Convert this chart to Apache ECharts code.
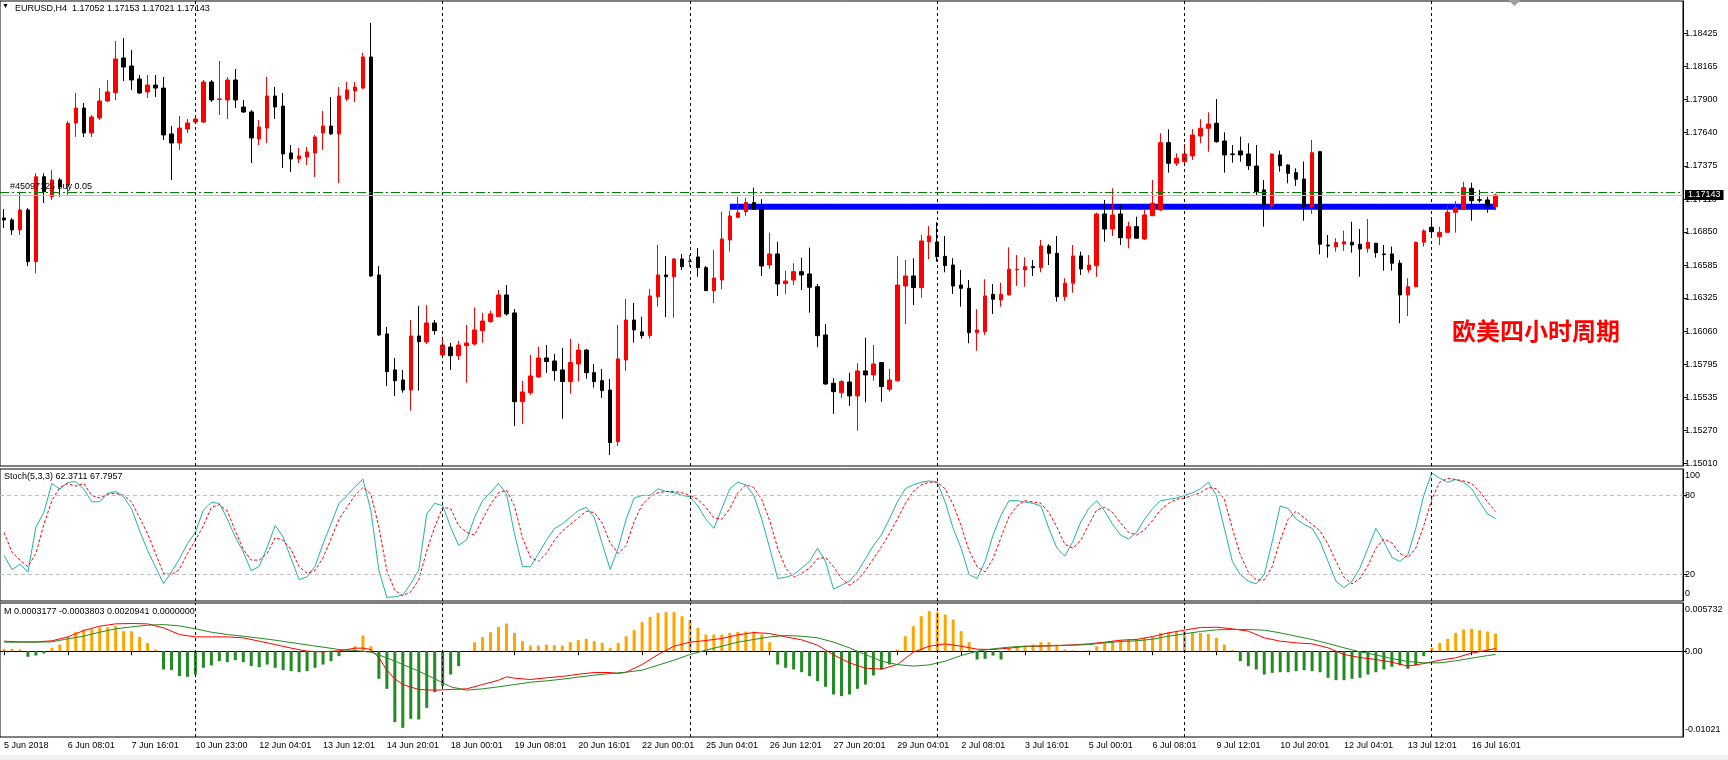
<!DOCTYPE html>
<html>
<head>
<meta charset="utf-8">
<title>EURUSD,H4</title>
<script src="https://cdn.jsdelivr.net/npm/echarts@6/dist/echarts.min.js"></script>
<style>
  html, body { margin: 0; padding: 0; background: #fff; }
  #main { width: 1728px; height: 760px; }
</style>
</head>
<body>
<div id="main"></div>
<script>
// EURUSD H4, 5 Jun 2018 00:00 .. 17 Jul 2018 04:00 (188 bars)
var symbol = 'EURUSD,H4';

// one label every 8 bars, first one on bar 0
var tickLabels = ['5 Jun 2018', '6 Jun 08:01', '7 Jun 16:01', '10 Jun 23:00', '12 Jun 04:01', '13 Jun 12:01',
  '14 Jun 20:01', '18 Jun 00:01', '19 Jun 08:01', '20 Jun 16:01', '22 Jun 00:01', '25 Jun 04:01',
  '26 Jun 12:01', '27 Jun 20:01', '29 Jun 04:01', '2 Jul 08:01', '3 Jul 16:01', '5 Jul 00:01',
  '6 Jul 08:01', '9 Jul 12:01', '10 Jul 20:01', '12 Jul 04:01', '13 Jul 12:01', '16 Jul 16:01'];

var priceTicks = [1.18425, 1.18165, 1.17900, 1.17640, 1.17375, 1.17110, 1.16850, 1.16585,
  1.16325, 1.16060, 1.15795, 1.15535, 1.15270, 1.15010];

var opens = [
  1.16960, 1.16944, 1.16865, 1.17024, 1.16613, 1.17288, 1.17129, 1.17262, 1.17222, 1.17715,
  1.17834, 1.17636, 1.17755, 1.17890, 1.17956, 1.18232, 1.18168, 1.18065, 1.17962, 1.18017,
  1.17993, 1.17628, 1.17556, 1.17667, 1.17723, 1.17723, 1.18041, 1.17902, 1.17898, 1.18057,
  1.17842, 1.17803, 1.17588, 1.17675, 1.17930, 1.17850, 1.17477, 1.17429, 1.17445, 1.17477,
  1.17636, 1.17691, 1.17628, 1.17906, 1.17970, 1.17993, 1.18240, 1.16507, 1.16038, 1.15752,
  1.15672, 1.15592, 1.16022, 1.15974, 1.16125, 1.15871, 1.15934, 1.15865, 1.15945, 1.15958,
  1.16064, 1.16136, 1.16175, 1.16348, 1.16205, 1.15499, 1.15571, 1.15696, 1.15847, 1.15823,
  1.15752, 1.15659, 1.15799, 1.15910, 1.15730, 1.15666, 1.15592, 1.15181, 1.15831, 1.16149,
  1.16054, 1.16024, 1.16334, 1.16507, 1.16493, 1.16634, 1.16614, 1.16650, 1.16565, 1.16382,
  1.16467, 1.16785, 1.16965, 1.17010, 1.17082, 1.17029, 1.16586, 1.16674, 1.16438, 1.16467,
  1.16533, 1.16515, 1.16414, 1.16030, 1.15646, 1.15571, 1.15656, 1.15545, 1.15744, 1.15712,
  1.15810, 1.15598, 1.15666, 1.16419, 1.16499, 1.16406, 1.16771, 1.16769, 1.16655, 1.16586,
  1.16427, 1.16401, 1.16048, 1.16056, 1.16353, 1.16308, 1.16348, 1.16548, 1.16547, 1.16573,
  1.16565, 1.16737, 1.16679, 1.16334, 1.16441, 1.16658, 1.16547, 1.16581, 1.16992, 1.16872,
  1.16992, 1.16799, 1.16891, 1.16793, 1.16978, 1.17024, 1.17559, 1.17395, 1.17408, 1.17453,
  1.17612, 1.17673, 1.17713, 1.17572, 1.17469, 1.17493, 1.17469, 1.17373, 1.17183, 1.17055,
  1.17461, 1.17381, 1.17320, 1.17270, 1.17050, 1.17487, 1.16745, 1.16732, 1.16753, 1.16767,
  1.16751, 1.16719, 1.16759, 1.16674, 1.16674, 1.16600, 1.16348, 1.16414, 1.16767, 1.16886,
  1.16811, 1.16846, 1.17005, 1.17031, 1.17196, 1.17105, 1.17103, 1.17052];

var closes = [
  1.16944, 1.16865, 1.17024, 1.16613, 1.17288, 1.17169, 1.17262, 1.17209, 1.17713, 1.17834,
  1.17636, 1.17763, 1.17890, 1.17962, 1.18224, 1.18160, 1.18057, 1.17954, 1.18017, 1.17993,
  1.17620, 1.17556, 1.17675, 1.17715, 1.17747, 1.18041, 1.17898, 1.17906, 1.18057, 1.17898,
  1.17803, 1.17596, 1.17683, 1.17930, 1.17842, 1.17469, 1.17429, 1.17453, 1.17485, 1.17604,
  1.17691, 1.17628, 1.17930, 1.17978, 1.18001, 1.18240, 1.16499, 1.16030, 1.15738, 1.15666,
  1.15592, 1.16022, 1.15977, 1.16125, 1.16064, 1.15950, 1.15865, 1.15950, 1.15966, 1.16070,
  1.16141, 1.16197, 1.16348, 1.16197, 1.15499, 1.15577, 1.15704, 1.15847, 1.15818, 1.15746,
  1.15659, 1.15810, 1.15910, 1.15730, 1.15659, 1.15587, 1.15174, 1.15839, 1.16149, 1.16070,
  1.16024, 1.16340, 1.16507, 1.16493, 1.16634, 1.16573, 1.16618, 1.16565, 1.16382, 1.16483,
  1.16793, 1.16976, 1.17002, 1.17082, 1.17029, 1.16578, 1.16674, 1.16435, 1.16459, 1.16533,
  1.16507, 1.16409, 1.16024, 1.15640, 1.15579, 1.15659, 1.15545, 1.15744, 1.15712, 1.15799,
  1.15619, 1.15672, 1.16427, 1.16499, 1.16406, 1.16777, 1.16817, 1.16652, 1.16581, 1.16419,
  1.16401, 1.16048, 1.16070, 1.16340, 1.16314, 1.16353, 1.16552, 1.16552, 1.16573, 1.16565,
  1.16737, 1.16679, 1.16334, 1.16441, 1.16658, 1.16555, 1.16586, 1.16992, 1.16872, 1.16984,
  1.16803, 1.16891, 1.16799, 1.16984, 1.17077, 1.17559, 1.17395, 1.17435, 1.17469, 1.17620,
  1.17673, 1.17707, 1.17566, 1.17461, 1.17464, 1.17461, 1.17376, 1.17169, 1.17063, 1.17469,
  1.17376, 1.17315, 1.17268, 1.17050, 1.17479, 1.16751, 1.16737, 1.16764, 1.16771, 1.16745,
  1.16713, 1.16767, 1.16684, 1.16669, 1.16600, 1.16348, 1.16414, 1.16767, 1.16857, 1.16851,
  1.16846, 1.17005, 1.17042, 1.17201, 1.17097, 1.17101, 1.17055, 1.17143];

var lows = [
  1.16880, 1.16825, 1.16825, 1.16578, 1.16520, 1.17079, 1.17103, 1.17129, 1.17143, 1.17604,
  1.17604, 1.17604, 1.17739, 1.17882, 1.17898, 1.18049, 1.17978, 1.17946, 1.17914, 1.17922,
  1.17580, 1.17262, 1.17501, 1.17636, 1.17713, 1.17715, 1.17882, 1.17779, 1.17747, 1.17834,
  1.17795, 1.17397, 1.17540, 1.17556, 1.17747, 1.17357, 1.17326, 1.17397, 1.17381, 1.17286,
  1.17501, 1.17620, 1.17238, 1.17890, 1.17882, 1.17985, 1.16491, 1.16022, 1.15624, 1.15545,
  1.15571, 1.15428, 1.15587, 1.15958, 1.16032, 1.15857, 1.15752, 1.15831, 1.15651, 1.15945,
  1.15969, 1.16128, 1.16173, 1.16183, 1.15306, 1.15322, 1.15553, 1.15688, 1.15728, 1.15666,
  1.15364, 1.15563, 1.15659, 1.15682, 1.15611, 1.15529, 1.15076, 1.15147, 1.15744, 1.15969,
  1.16000, 1.16000, 1.16255, 1.16173, 1.16167, 1.16547, 1.16573, 1.16493, 1.16380, 1.16284,
  1.16393, 1.16692, 1.16957, 1.16978, 1.17024, 1.16499, 1.16555, 1.16340, 1.16356, 1.16427,
  1.16388, 1.16207, 1.15932, 1.15632, 1.15402, 1.15527, 1.15465, 1.15269, 1.15495, 1.15666,
  1.15499, 1.15579, 1.15659, 1.16117, 1.16268, 1.16326, 1.16632, 1.16613, 1.16528, 1.16356,
  1.16255, 1.15964, 1.15905, 1.16030, 1.16197, 1.16255, 1.16344, 1.16419, 1.16414, 1.16499,
  1.16528, 1.16586, 1.16295, 1.16302, 1.16366, 1.16507, 1.16525, 1.16493, 1.16771, 1.16817,
  1.16745, 1.16719, 1.16797, 1.16785, 1.16976, 1.17016, 1.17320, 1.17373, 1.17389, 1.17421,
  1.17554, 1.17487, 1.17559, 1.17320, 1.17400, 1.17408, 1.17342, 1.17143, 1.16891, 1.17029,
  1.17328, 1.17236, 1.17214, 1.16938, 1.16992, 1.16671, 1.16644, 1.16692, 1.16698, 1.16684,
  1.16493, 1.16684, 1.16644, 1.16541, 1.16541, 1.16123, 1.16181, 1.16409, 1.16732, 1.16811,
  1.16745, 1.16843, 1.16843, 1.17024, 1.16938, 1.17082, 1.17002, 1.17021];

var highs = [
  1.17031, 1.16960, 1.17169, 1.17039, 1.17315, 1.17315, 1.17342, 1.17278, 1.17731, 1.17954,
  1.17874, 1.17779, 1.17993, 1.18057, 1.18367, 1.18391, 1.18296, 1.18097, 1.18097, 1.18097,
  1.18081, 1.17691, 1.17771, 1.17747, 1.17755, 1.18057, 1.18057, 1.18208, 1.18081, 1.18144,
  1.17898, 1.17819, 1.17739, 1.18081, 1.18001, 1.17954, 1.17540, 1.17517, 1.17524, 1.17620,
  1.17811, 1.17922, 1.18001, 1.18041, 1.18041, 1.18272, 1.18510, 1.16578, 1.16093, 1.15847,
  1.15752, 1.16149, 1.16260, 1.16268, 1.16149, 1.16016, 1.15966, 1.15982, 1.16109, 1.16247,
  1.16205, 1.16223, 1.16388, 1.16427, 1.16236, 1.15664, 1.15871, 1.15937, 1.15950, 1.15879,
  1.15927, 1.15998, 1.15961, 1.15918, 1.15799, 1.15760, 1.15680, 1.16109, 1.16316, 1.16284,
  1.16175, 1.16395, 1.16745, 1.16658, 1.16642, 1.16674, 1.16666, 1.16721, 1.16578, 1.16705,
  1.17010, 1.17018, 1.17129, 1.17121, 1.17201, 1.17109, 1.16843, 1.16771, 1.16541, 1.16600,
  1.16644, 1.16724, 1.16435, 1.16117, 1.15686, 1.15672, 1.15730, 1.15805, 1.16008, 1.15950,
  1.15815, 1.15760, 1.16658, 1.16626, 1.16640, 1.16825, 1.16896, 1.16926, 1.16817, 1.16640,
  1.16547, 1.16467, 1.16234, 1.16473, 1.16435, 1.16446, 1.16727, 1.16666, 1.16647, 1.16626,
  1.16785, 1.16751, 1.16817, 1.16481, 1.16745, 1.16692, 1.16666, 1.17002, 1.17103, 1.17196,
  1.17069, 1.16930, 1.16970, 1.17024, 1.17262, 1.17633, 1.17665, 1.17474, 1.17548, 1.17667,
  1.17745, 1.17800, 1.17906, 1.17641, 1.17540, 1.17606, 1.17554, 1.17540, 1.17262, 1.17473,
  1.17495, 1.17389, 1.17355, 1.17408, 1.17580, 1.17493, 1.16825, 1.16799, 1.16859, 1.16930,
  1.16872, 1.16952, 1.16761, 1.16745, 1.16732, 1.16626, 1.16481, 1.16771, 1.16870, 1.16944,
  1.16891, 1.17058, 1.17095, 1.17248, 1.17240, 1.17183, 1.17129, 1.17153];

// Stochastic(5,3,3): %K and %D
var stochMain = [
  34.6, 23.8, 27.8, 22.0, 55.9, 67.2, 89.0, 84.8, 89.8, 90.5,
  84.8, 75.2, 75.2, 81.5, 83.0, 79.0, 69.7, 53.4, 38.3, 25.8,
  13.2, 22.0, 32.0, 43.4, 52.1, 69.0, 74.7, 74.0, 62.2, 48.4,
  37.1, 22.8, 26.3, 40.8, 57.2, 48.4, 32.0, 16.2, 18.3, 26.3,
  43.4, 58.4, 74.0, 79.7, 86.5, 92.3, 68.5, 23.3, 2.7, 3.2,
  4.4, 13.2, 23.3, 65.9, 74.0, 72.2, 55.9, 42.1, 46.4, 63.4,
  76.0, 82.2, 89.0, 81.0, 50.9, 26.3, 25.8, 35.8, 45.9, 54.7,
  58.4, 63.4, 68.5, 71.0, 63.4, 43.4, 24.0, 40.0, 62.0, 78.0,
  80.0, 80.0, 85.0, 83.0, 82.0, 80.0, 79.0, 72.0, 62.0, 55.0,
  70.0, 85.0, 90.0, 88.0, 80.0, 62.0, 40.0, 17.0, 18.0, 20.0,
  25.0, 30.0, 40.0, 30.0, 9.0, 12.0, 15.0, 22.0, 32.0, 42.0,
  50.0, 62.0, 75.0, 85.0, 88.0, 90.0, 91.0, 90.0, 75.0, 55.0,
  40.0, 20.0, 17.0, 30.0, 50.0, 65.0, 76.0, 76.0, 75.0, 74.0,
  72.0, 55.0, 40.0, 34.0, 45.0, 60.0, 70.0, 76.0, 68.0, 58.0,
  50.0, 47.0, 52.0, 62.0, 70.0, 76.0, 77.0, 78.0, 80.0, 82.0,
  85.0, 90.0, 80.0, 55.0, 30.0, 20.0, 15.0, 13.0, 20.0, 45.0,
  72.0, 70.0, 62.0, 58.0, 55.0, 45.0, 30.0, 15.0, 10.0, 15.0,
  25.0, 40.0, 55.0, 45.0, 33.0, 30.0, 35.0, 55.0, 80.0, 97.0,
  93.0, 90.0, 92.0, 90.0, 85.0, 75.0, 66.0, 62.3711];

var stochSignal = [
  52, 37, 31, 26, 36, 58, 76, 86, 89, 87,
  89, 80, 78, 81, 81.5, 80, 75, 63, 51, 36,
  21, 20, 24, 36, 46, 57, 71, 73, 68, 53,
  39, 31, 31, 36, 48, 46, 39, 26, 21, 23,
  33, 47, 62, 71, 80, 86, 81, 56, 23, 8,
  4, 7, 16, 38, 56, 71, 70, 57, 52, 50,
  62, 73, 82, 84, 72, 48, 33, 30, 36, 46,
  53, 58, 63, 68, 67, 59, 44, 36, 42, 60,
  73, 79, 82, 83, 83, 82, 80, 77, 71, 63,
  62, 70, 82, 88, 86, 77, 61, 40, 25, 18,
  21, 25, 32, 33, 26, 17, 12, 16, 23, 32,
  41, 51, 62, 74, 83, 88, 90, 90, 85, 73,
  57, 38, 26, 22, 32, 48, 64, 72, 76, 75,
  74, 67, 56, 43, 40, 46, 58, 69, 71, 67,
  59, 52, 50, 54, 61, 69, 74, 77, 78, 80,
  82, 86, 85, 77, 55, 35, 22, 16, 16, 26,
  46, 62, 68, 63, 58, 53, 43, 30, 18, 13,
  17, 27, 40, 47, 44, 36, 33, 40, 57, 77,
  90, 93, 92, 91, 89, 83, 75, 67.7957];

var stochLevels = [80, 20];
var stochTicks = [100, 80, 20, 0];

// MACD-style pane: histogram per bar, two signal lines read at [bar, value]
var macdHist = [
  0.00028, 0.00028, 0.00020, -0.00067, -0.00052, -0.00028, 0.00040, 0.00079, 0.00170, 0.00226,
  0.00258, 0.00258, 0.00278, 0.00285, 0.00297, 0.00238, 0.00238, 0.00170, 0.00099, 0.00020,
  -0.00218, -0.00226, -0.00297, -0.00305, -0.00278, -0.00198, -0.00170, -0.00119, -0.00131, -0.00107,
  -0.00131, -0.00178, -0.00190, -0.00159, -0.00198, -0.00226, -0.00238, -0.00250, -0.00238, -0.00198,
  -0.00159, -0.00119, -0.00059, 0.00020, 0.00059, 0.00186, 0.00059, -0.00329, -0.00448, -0.00845,
  -0.00912, -0.00805, -0.00813, -0.00674, -0.00488, -0.00416, -0.00278, -0.00178, 0.00004, 0.00107,
  0.00167, 0.00226, 0.00289, 0.00329, 0.00218, 0.00119, 0.00067, 0.00067, 0.00079, 0.00071,
  0.00067, 0.00107, 0.00131, 0.00147, 0.00119, 0.00099, 0.00040, 0.00099, 0.00178, 0.00250,
  0.00345, 0.00408, 0.00456, 0.00464, 0.00464, 0.00416, 0.00369, 0.00278, 0.00198, 0.00198,
  0.00198, 0.00218, 0.00230, 0.00234, 0.00234, 0.00198, 0.00107, -0.00159, -0.00198, -0.00218,
  -0.00250, -0.00297, -0.00357, -0.00424, -0.00515, -0.00535, -0.00515, -0.00448, -0.00397, -0.00289,
  -0.00218, -0.00159, 0.00020, 0.00178, 0.00297, 0.00416, 0.00476, 0.00464, 0.00436, 0.00377,
  0.00238, 0.00107, -0.00099, -0.00091, -0.00052, -0.00099, 0.00040, 0.00059, 0.00067, 0.00079,
  0.00107, 0.00107, 0.00079, 0.00020, 0.00008, 0.00004, 0.00012, 0.00059, 0.00107, 0.00119,
  0.00131, 0.00147, 0.00147, 0.00159, 0.00170, 0.00218, 0.00226, 0.00238, 0.00238, 0.00226,
  0.00218, 0.00206, 0.00159, 0.00079, 0.00012, -0.00119, -0.00178, -0.00218, -0.00278, -0.00258,
  -0.00250, -0.00250, -0.00238, -0.00226, -0.00238, -0.00250, -0.00317, -0.00345, -0.00345, -0.00329,
  -0.00317, -0.00278, -0.00250, -0.00218, -0.00186, -0.00170, -0.00210, -0.00170, -0.00059, 0.00040,
  0.00099, 0.00147, 0.00218, 0.00258, 0.00266, 0.00250, 0.00234, 0.0020941];

var macdRed = [
  [0, 0.00119], [2, 0.00111], [4, 0.00111], [6, 0.00123], [8, 0.00170], [10, 0.00246], [12, 0.00297],
  [14, 0.00325], [16, 0.00329], [18, 0.00325], [20, 0.00278], [22, 0.00198], [24, 0.00170], [26, 0.00170],
  [28, 0.00170], [30, 0.00159], [32, 0.00119], [34, 0.00079], [36, 0.00036], [38, 0.0], [40, -0.00008],
  [42, 0.00004], [43, 0.00020], [44, 0.00036], [45, 0.00036], [46, 0.00020], [47, -0.00079], [48, -0.00226],
  [49, -0.00329], [50, -0.00397], [52, -0.00456], [54, -0.00464], [56, -0.00456], [58, -0.00448], [60, -0.00397],
  [62, -0.00345], [63, -0.00305], [64, -0.00321], [66, -0.00337], [68, -0.00317], [70, -0.00301], [72, -0.00274],
  [74, -0.00254], [76, -0.00254], [77, -0.00266], [78, -0.00250], [80, -0.00159], [82, -0.00040], [84, 0.00059],
  [86, 0.00107], [88, 0.00127], [90, 0.00151], [92, 0.00194], [94, 0.00222], [96, 0.00210], [98, 0.00170],
  [100, 0.00135], [102, 0.00071], [104, -0.00044], [106, -0.00139], [108, -0.00202], [110, -0.00214], [112, -0.00159],
  [114, -0.00012], [116, 0.00059], [118, 0.00087], [120, 0.00059], [122, 0.00024], [124, 0.00020], [126, 0.00036],
  [128, 0.00056], [130, 0.00059], [132, 0.00067], [134, 0.00075], [136, 0.00087], [138, 0.00107], [140, 0.00131],
  [142, 0.00139], [144, 0.00174], [146, 0.00218], [148, 0.00250], [150, 0.00282], [152, 0.00285], [154, 0.00266],
  [156, 0.00238], [158, 0.00159], [160, 0.00119], [162, 0.00099], [164, 0.00087], [166, 0.00040], [168, -0.00040],
  [170, -0.00075], [172, -0.00099], [174, -0.00131], [176, -0.00178], [178, -0.00147], [180, -0.00107], [182, -0.00079],
  [184, -0.00024], [186, 0.00012], [187, 0.0003177]];

var macdGreen = [
  [0, 0.00107], [2, 0.00107], [4, 0.00107], [6, 0.00111], [8, 0.00147], [10, 0.00178], [12, 0.00226],
  [14, 0.00266], [16, 0.00289], [18, 0.00309], [20, 0.00317], [22, 0.00301], [24, 0.00266], [26, 0.00226],
  [28, 0.00198], [30, 0.00178], [32, 0.00155], [34, 0.00131], [36, 0.00103], [38, 0.00075], [40, 0.00048],
  [42, 0.00020], [44, 0.00008], [46, -0.00012], [48, -0.00079], [50, -0.00159], [52, -0.00238], [54, -0.00329],
  [56, -0.00424], [58, -0.00464], [60, -0.00448], [62, -0.00424], [64, -0.00397], [66, -0.00369], [68, -0.00353],
  [70, -0.00333], [72, -0.00309], [74, -0.00285], [76, -0.00266], [78, -0.00250], [80, -0.00226], [82, -0.00167],
  [84, -0.00107], [86, -0.00040], [88, 0.00012], [90, 0.00059], [92, 0.00107], [94, 0.00139], [96, 0.00170],
  [98, 0.00186], [100, 0.00178], [102, 0.00159], [104, 0.00107], [106, 0.00040], [108, -0.00040], [110, -0.00119],
  [112, -0.00159], [114, -0.00178], [116, -0.00163], [118, -0.00119], [120, -0.00052], [122, 0.0], [124, 0.00028],
  [126, 0.00048], [128, 0.00059], [130, 0.00063], [132, 0.00067], [134, 0.00071], [136, 0.00079], [138, 0.00099],
  [140, 0.00115], [142, 0.00123], [144, 0.00143], [146, 0.00178], [148, 0.00206], [150, 0.00234], [152, 0.00254],
  [154, 0.00258], [156, 0.00258], [158, 0.00250], [160, 0.00218], [162, 0.00178], [164, 0.00139], [166, 0.00091],
  [168, 0.00040], [170, -0.00008], [172, -0.00044], [174, -0.00087], [176, -0.00123], [178, -0.00139], [180, -0.00139],
  [182, -0.00115], [184, -0.00083], [186, -0.00052], [187, -0.0003803]];

var macdTicks = [0.005732, 0, -0.01021];
var macdTickText = ['0.005732', '0.00', '-0.01021'];

// week separators (first bar of each week)
var weekStarts = [24, 55, 86, 117, 148, 179];

var bidPrice = 1.17143;
var orderPrice = 1.17164;
var orderText = '#45097125 buy 0.05';
var levelPrice = 1.17049;
var levelFrom = 91;
var levelTo = 187;
var barSlots = 211; // bars plus the empty shift area on the right

var FONT = 'Liberation Sans';
var last = opens.length - 1;

var categories = [];
for (var i = 0; i < barSlots; i++) categories.push(i);

var candles = opens.map(function (o, i) { return [o, closes[i], lows[i], highs[i]]; });

function showEvery8(i) { return i % 8 === 0 && i / 8 < tickLabels.length; }

function weekLineData() {
  return weekStarts.map(function (k) { return { xAxis: k }; });
}

function weekMarkLine(extra) {
  return {
    silent: true,
    symbol: 'none',
    animation: false,
    precision: 6,
    label: { show: false },
    lineStyle: { color: '#000', type: [3, 3], width: 1 },
    data: weekLineData().concat(extra || [])
  };
}

var gridBase = { left: -3.7, right: 45, show: true, borderColor: '#000', borderWidth: 1, backgroundColor: 'transparent' };
var grids = [
  Object.assign({ top: 1, height: 465 }, gridBase),
  Object.assign({ top: 469, height: 132 }, gridBase),
  Object.assign({ top: 603, height: 134 }, gridBase)
];

function hiddenX(idx) {
  return {
    type: 'category', gridIndex: idx, data: categories, boundaryGap: true,
    axisLine: { show: false }, axisTick: { show: false }, axisLabel: { show: false }, splitLine: { show: false }
  };
}

var labelStyle = { color: '#000', fontSize: 9, fontFamily: FONT };
// edge labels of the indicator panes sit inside the pane, like the terminal does
var edgeRich = {
  down: { padding: [13, 0, 0, 0], color: '#000', fontSize: 9, fontFamily: FONT },
  up: { padding: [0, 0, 14, 0], color: '#000', fontSize: 9, fontFamily: FONT }
};

var chart = echarts.init(document.getElementById('main'), null, { renderer: 'canvas' });

var option = {
  animation: false,
  backgroundColor: '#ffffff',
  textStyle: { fontFamily: FONT },
  grid: grids,
  title: [
    { text: '\u25BC', left: 2, top: 3, padding: 0, textStyle: { fontSize: 7, color: '#000', fontWeight: 'normal' } },
    {
      text: symbol + '  ' + [opens[last], highs[last], lows[last], closes[last]].map(function (v) { return v.toFixed(5); }).join(' '),
      left: 15, top: 4, padding: 0,
      textStyle: Object.assign({ fontWeight: 'normal' }, labelStyle)
    },
    {
      text: 'Stoch(5,3,3) ' + stochMain[last].toFixed(4) + ' ' + stochSignal[last].toFixed(4),
      left: 4, top: 472, padding: 0,
      textStyle: Object.assign({ fontWeight: 'normal' }, labelStyle)
    },
    {
      text: 'M ' + macdRed[macdRed.length - 1][1].toFixed(7) + ' ' + macdGreen[macdGreen.length - 1][1].toFixed(7) + ' ' +
        macdHist[last].toFixed(7) + ' ' + (0).toFixed(7),
      left: 4, top: 607, padding: 0,
      textStyle: Object.assign({ fontWeight: 'normal' }, labelStyle)
    },
    {
      text: '欧美四小时周期', left: 1452, top: 319, padding: 0,
      textStyle: { color: '#ff0000', fontSize: 24, fontWeight: 'bold', fontFamily: 'Noto Sans CJK SC' }
    }
  ],
  xAxis: [
    hiddenX(0),
    hiddenX(1),
    {
      type: 'category', gridIndex: 2, data: categories, boundaryGap: true,
      axisLine: { show: true, lineStyle: { color: '#000' } },
      axisTick: { show: true, alignWithLabel: true, interval: showEvery8, length: 4, lineStyle: { color: '#000' } },
      axisLabel: Object.assign({
        interval: showEvery8,
        formatter: function (v, idx) { return tickLabels[idx / 8]; },
        align: 'left', margin: 4
      }, labelStyle),
      splitLine: { show: false }
    }
  ],
  yAxis: [
    {
      type: 'value', gridIndex: 0, position: 'right', scale: true,
      min: 1.14988, max: 1.18685,
      splitLine: { show: false },
      axisLine: { show: true, lineStyle: { color: '#000' } },
      axisTick: { show: true, length: 4, customValues: priceTicks, lineStyle: { color: '#000' } },
      axisLabel: Object.assign({
        customValues: priceTicks, margin: 2,
        formatter: function (v) { return v.toFixed(5); }
      }, labelStyle)
    },
    {
      type: 'value', gridIndex: 1, position: 'right', min: 0, max: 100,
      splitLine: { show: false },
      axisLine: { show: true, lineStyle: { color: '#000' } },
      axisTick: { show: true, length: 4, customValues: stochLevels, lineStyle: { color: '#000' } },
      axisLabel: Object.assign({
        customValues: stochTicks, margin: 2, rich: edgeRich,
        formatter: function (v) {
          if (v === stochTicks[0]) return '{down|' + v + '}';
          if (v === stochTicks[stochTicks.length - 1]) return '{up|' + v + '}';
          return String(v);
        }
      }, labelStyle)
    },
    {
      type: 'value', gridIndex: 2, position: 'right', min: macdTicks[2], max: macdTicks[0],
      splitLine: { show: false },
      axisLine: { show: true, lineStyle: { color: '#000' } },
      axisTick: { show: true, length: 4, customValues: [0], lineStyle: { color: '#000' } },
      axisLabel: Object.assign({
        customValues: macdTicks, margin: 2, rich: edgeRich,
        formatter: function (v) {
          var i = macdTicks.indexOf(v);
          if (i === 0) return '{down|' + macdTickText[i] + '}';
          if (i === 2) return '{up|' + macdTickText[i] + '}';
          return macdTickText[i];
        }
      }, labelStyle)
    }
  ],
  series: [
    {
      // horizontal level drawn on the chart, sits behind the candles
      name: 'level', type: 'line', xAxisIndex: 0, yAxisIndex: 0, z: 1,
      data: [[levelFrom, levelPrice], [levelTo, levelPrice]],
      symbol: 'none', lineStyle: { color: '#0000ff', width: 6 },
      markLine: weekMarkLine([
        {
          yAxis: bidPrice,
          lineStyle: { color: '#c0c0c0', type: 'solid', width: 1 },
          label: {
            show: true, position: 'end', distance: 2,
            formatter: function (p) { return p.value.toFixed(5); },
            color: '#fff', backgroundColor: '#000', padding: [1, 3, 0, 3],
            fontSize: 9, fontFamily: FONT
          }
        },
        {
          yAxis: orderPrice,
          lineStyle: { color: '#008000', type: [9, 3, 2, 3], width: 1 },
          label: {
            show: true, position: 'insideStartTop', distance: [10, 1],
            formatter: orderText, color: '#000', fontSize: 9, fontFamily: FONT
          }
        }
      ])
    },
    {
      name: symbol, type: 'candlestick', xAxisIndex: 0, yAxisIndex: 0, z: 3,
      data: candles, barWidth: 4,
      itemStyle: { color: '#ff0000', color0: '#000000', borderColor: '#ff0000', borderColor0: '#000000', borderWidth: 1 }
    },
    {
      name: 'Stoch', type: 'line', xAxisIndex: 1, yAxisIndex: 1,
      data: stochMain, symbol: 'none',
      lineStyle: { color: '#20b2aa', width: 1 },
      markLine: {
        silent: true, symbol: 'none', animation: false, precision: 6, label: { show: false },
        lineStyle: { color: '#000', type: [3, 3], width: 1 },
        data: weekLineData().concat(stochLevels.map(function (v) {
          return { yAxis: v, lineStyle: { color: '#c0c0c0', type: [4, 3], width: 1 } };
        }))
      }
    },
    {
      name: 'Signal', type: 'line', xAxisIndex: 1, yAxisIndex: 1,
      data: stochSignal, symbol: 'none',
      lineStyle: { color: '#ff0000', width: 1, type: [3, 2] }
    },
    {
      name: 'Hist', type: 'bar', xAxisIndex: 2, yAxisIndex: 2,
      data: macdHist, barWidth: 3,
      itemStyle: { color: function (p) { return p.value >= 0 ? '#ffa500' : '#228b22'; } },
      markLine: weekMarkLine()
    },
    {
      name: 'MACD', type: 'line', xAxisIndex: 2, yAxisIndex: 2,
      data: macdRed, symbol: 'none', lineStyle: { color: '#ff0000', width: 1 }
    },
    {
      name: 'Signal line', type: 'line', xAxisIndex: 2, yAxisIndex: 2,
      data: macdGreen, symbol: 'none', lineStyle: { color: '#228b22', width: 1 }
    }
  ],
  graphic: [
    { type: 'rect', left: 0, top: 755, shape: { width: 1728, height: 5 }, style: { fill: '#f0f0f0' }, silent: true },
    { type: 'polygon', shape: { points: [[1508, 0], [1521, 0], [1514.5, 6]] }, style: { fill: '#a0a0a0' }, silent: true }
  ]
};

chart.setOption(option);
</script>
</body>
</html>
